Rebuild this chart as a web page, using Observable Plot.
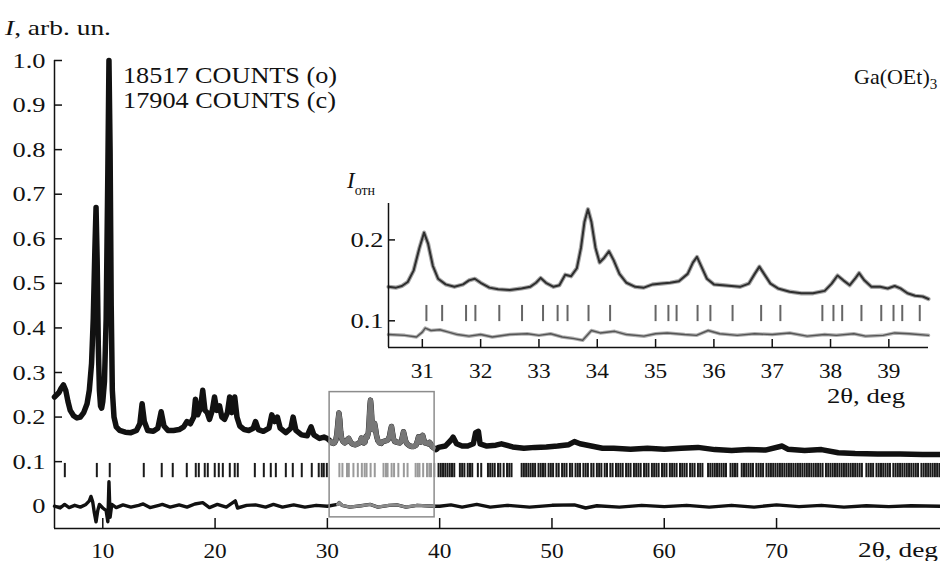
<!DOCTYPE html>
<html>
<head>
<meta charset="utf-8">
<script src="https://cdn.jsdelivr.net/npm/d3@7"></script>
<script src="https://cdn.jsdelivr.net/npm/@observablehq/plot@0.6"></script>
<style>
  body { margin: 0; background: #fff; }
  #wrap { position: relative; width: 940px; height: 561px; overflow: hidden; }
  #wrap > svg, #wrap > div { position: absolute; }
</style>
</head>
<body>
<div id="wrap"></div>
<script>
// ---------- main pattern: observed profile (2θ, I) ----------
const lowTheta = [5.7,5.9,6.1,6.3,6.5,6.7,6.9,7.1,7.4,7.7,8.0,8.3,8.6,8.8,9.0,9.15,9.3,9.4,9.5,9.6,9.7,9.8,9.9,10.0,10.15,10.3,10.45,10.55,10.65,10.75,10.85,11.0,11.2,11.5,12.0,12.5,13.0,13.3,13.5,13.7,14.0,14.5,14.9,15.2,15.45,15.8,16.3,16.8,17.2,17.5,17.8,18.1,18.25,18.45,18.7,18.9,19.1,19.3,19.5,19.75,19.95,20.15,20.4,20.6,20.85,21.1,21.3,21.5,21.75,21.95,22.2,22.6,23.0,23.4,23.6,23.85,24.3,24.8,25.05,25.3,25.55,25.8,26.3,26.75,26.95,27.2,27.7,28.2,28.55,28.8,29.3,29.7,30.0,30.3];
const lowI     = [0.245,0.25,0.255,0.265,0.272,0.26,0.235,0.215,0.203,0.198,0.2,0.21,0.23,0.26,0.32,0.42,0.58,0.67,0.55,0.36,0.26,0.225,0.22,0.235,0.28,0.42,0.75,1.0,0.8,0.45,0.26,0.2,0.178,0.17,0.166,0.165,0.17,0.185,0.23,0.19,0.17,0.168,0.175,0.212,0.18,0.17,0.17,0.172,0.178,0.19,0.185,0.2,0.24,0.205,0.22,0.26,0.215,0.21,0.195,0.215,0.245,0.215,0.225,0.2,0.195,0.21,0.245,0.21,0.245,0.2,0.18,0.172,0.17,0.175,0.19,0.172,0.168,0.175,0.205,0.19,0.2,0.175,0.165,0.175,0.2,0.17,0.16,0.158,0.178,0.16,0.152,0.155,0.152,0.145];

// zoomed region (inset), also used for the boxed part of the main pattern
const insetTheta = [30.42,30.55,30.65,30.75,30.85,30.95,31.03,31.1,31.18,31.27,31.4,31.55,31.7,31.8,31.9,32.0,32.15,32.3,32.5,32.7,32.85,32.95,33.03,33.12,33.25,33.35,33.45,33.55,33.65,33.72,33.78,33.84,33.9,33.97,34.04,34.12,34.2,34.28,34.38,34.5,34.65,34.8,34.95,35.1,35.25,35.4,35.55,35.64,35.71,35.78,35.88,36.0,36.15,36.3,36.45,36.6,36.7,36.78,36.86,36.97,37.1,37.3,37.5,37.7,37.9,38.02,38.12,38.22,38.33,38.42,38.49,38.58,38.7,38.85,38.98,39.1,39.2,39.32,39.45,39.58,39.68];
const insetI     = [0.142,0.141,0.143,0.148,0.162,0.19,0.209,0.195,0.168,0.152,0.145,0.142,0.145,0.15,0.152,0.147,0.141,0.139,0.138,0.14,0.142,0.147,0.153,0.147,0.142,0.144,0.157,0.155,0.165,0.19,0.222,0.238,0.222,0.19,0.172,0.178,0.186,0.175,0.158,0.147,0.142,0.141,0.145,0.146,0.147,0.149,0.158,0.172,0.179,0.168,0.152,0.145,0.144,0.143,0.142,0.146,0.158,0.167,0.158,0.146,0.14,0.136,0.134,0.134,0.137,0.146,0.156,0.15,0.144,0.152,0.159,0.15,0.142,0.142,0.14,0.143,0.14,0.134,0.131,0.13,0.127];

const highTheta = [39.9,40.5,41.0,41.2,41.5,42.0,42.5,43.0,43.2,43.45,43.6,44.2,45.0,45.5,46.5,47.5,48.5,49.5,50.5,51.5,52.0,52.5,53.5,54.5,55.5,57.0,58.5,60.0,61.5,63.0,64.5,66.0,67.5,69.0,70.5,71.0,72.5,74.0,75.5,77.0,79.0,81.0,83.0,84.6];
const highI     = [0.132,0.135,0.148,0.155,0.14,0.135,0.135,0.14,0.165,0.168,0.14,0.135,0.137,0.14,0.133,0.13,0.132,0.133,0.135,0.138,0.145,0.14,0.135,0.13,0.13,0.128,0.13,0.128,0.13,0.132,0.127,0.125,0.127,0.126,0.135,0.128,0.125,0.127,0.12,0.118,0.117,0.117,0.116,0.116];

// ---------- difference curves ----------
const diffTheta = [5.7,6.2,6.6,7.0,7.5,8.0,8.5,8.8,8.95,9.1,9.25,9.4,9.55,9.7,10.0,10.3,10.45,10.55,10.65,10.8,11.2,11.8,12.5,13.2,13.6,14.2,15.0,15.3,16.0,16.8,17.5,18.2,18.9,19.5,20.2,21.0,21.8,22.0,22.8,23.6,24.5,25.2,26.0,27.0,28.0,29.0,30.0,30.9,31.05,31.3,32.0,33.0,33.8,34.5,35.5,36.2,37.0,38.0,39.5,40.0,41.0,42.0,43.3,44.5,46.0,48.0,50.0,52.0,53.0,54.0,56.0,58.0,60.0,62.0,64.0,66.0,68.0,70.0,72.0,74.0,76.0,78.0,80.0,82.0,84.6];
const diffI     = [0.0,-0.004,0.004,-0.003,0.002,-0.002,0.004,0.012,0.022,0.01,-0.015,-0.035,-0.01,0.004,-0.004,-0.01,-0.035,0.055,-0.025,0.004,-0.003,0.003,-0.002,0.002,0.005,-0.003,0.002,0.004,-0.002,0.003,-0.002,0.005,0.008,-0.003,0.004,-0.002,0.012,-0.004,0.002,0.003,-0.002,0.004,-0.002,0.003,-0.002,0.002,0.0,0.004,0.008,0.002,-0.002,0.001,0.004,-0.002,0.002,0.003,-0.002,0.002,0.0,0.0,0.003,-0.002,0.004,-0.002,0.002,-0.002,0.002,0.003,-0.004,0.001,-0.002,0.002,-0.001,0.002,-0.002,0.002,-0.002,0.003,-0.001,0.002,-0.002,0.001,-0.001,0.001,0.0];

const insetDiffTheta = [30.42,30.7,30.9,31.0,31.05,31.15,31.3,31.45,31.6,31.8,32.0,32.2,32.5,32.8,33.0,33.2,33.4,33.6,33.75,33.9,34.05,34.3,34.5,34.8,35.0,35.2,35.5,35.7,35.9,36.1,36.4,36.7,37.0,37.3,37.6,37.9,38.1,38.4,38.6,38.9,39.1,39.35,39.68];
const insetDiffI     = [0.083,0.082,0.08,0.086,0.091,0.088,0.089,0.086,0.083,0.081,0.083,0.08,0.083,0.084,0.082,0.084,0.08,0.078,0.076,0.088,0.085,0.087,0.083,0.081,0.084,0.085,0.083,0.082,0.088,0.084,0.082,0.084,0.083,0.085,0.081,0.083,0.082,0.084,0.081,0.082,0.085,0.084,0.082];

// ---------- Bragg reflection positions ----------
const braggLow = [6.62,9.47,10.62,13.65,15.25,16.23,17.48,18.28,18.55,19.08,19.35,19.97,20.33,20.69,21.31,21.75,22.02,23.54,24.34,24.96,25.41,26.30,26.92,27.72,28.61,29.23,29.50,29.68,29.95];
const braggInset = [31.07,31.34,31.75,31.91,32.32,32.71,33.07,33.32,33.49,33.85,34.22,35.0,35.22,35.36,35.72,35.94,36.32,36.81,37.14,37.86,38.05,38.20,38.53,38.87,39.08,39.23,39.53];
const braggHigh = [39.9,40.1,40.3,40.5,40.7,40.9,41.1,41.3,41.8,42.0,42.2,42.5,42.7,42.9,43.4,43.7,44.3,44.5,44.7,44.9,45.2,45.4,45.7,46.0,46.2,46.4,47.3,47.5,47.7,47.9,48.1,48.3,48.5,48.8,49.0,49.2,49.4,49.7,49.9,50.1,50.4,50.6,50.9,51.1,51.3,51.6,51.8,52.1,52.3,52.5,52.8,53.0,53.2,53.5,53.7,54.0,54.2,54.4,54.7,54.9,55.2,55.4,55.7,55.9,56.1,56.3,56.6,56.8,57.0,57.3,57.5,57.7,57.9,58.2,58.4,58.6,58.9,59.1,59.3,59.5,59.8,60.0,60.2,60.5,60.7,60.9,61.1,61.4,61.6,61.8,62.0,62.3,62.5,62.7,63.0,63.2,63.4,63.9,64.1,64.3,64.5,64.7,64.9,65.1,65.3,65.5,65.9,66.1,66.3,66.5,66.9,67.1,67.3,67.5,67.7,67.9,68.2,68.4,68.6,68.8,69.1,69.3,69.5,69.7,69.9,70.1,70.3,70.5,70.7,70.9,71.1,71.3,71.5,71.7,71.9,72.1,72.3,72.5,72.7,72.9,73.1,73.3,73.5,73.7,73.9,74.1,74.4,74.6,74.8,75.0,75.2,75.4,75.6,75.8,76.0,76.2,76.4,76.6,76.8,77.0,77.2,77.4,77.6,78.0,78.2,78.4,78.6,78.9,79.1,79.3,79.5,79.7,79.9,80.1,80.4,80.6,80.8,81.0,81.2,81.4,81.6,81.8,82.0,82.2,82.4,82.6,82.9,83.1,83.3,83.5,83.7,83.9,84.1,84.3,84.5];

// rows where Bragg markers sit
const braggRowMain = [0.064, 0.096];
const braggRowInset = [0.099, 0.119];

// zoom box on main pattern
const boxTheta = [30.2, 39.55];
const boxI = [-0.025, 0.256];

// axes
const xDomain = [5.7, 84.6];
const yDomain = [-0.05, 1.0];
const xTicks = [10, 20, 30, 40, 50, 60, 70];
const yTicks = [0, 0.1, 0.2, 0.3, 0.4, 0.5, 0.6, 0.7, 0.8, 0.9, 1.0];
const insetXDomain = [30.42, 39.68];
const insetYDomain = [0.067, 0.245];
const insetXTicks = [31, 32, 33, 34, 35, 36, 37, 38, 39];
const insetYTicks = [0.1, 0.2];

// ---------- build tables ----------
const pts = (T, I) => T.map((t, k) => ({t, i: I[k]}));
const obsMain = [...pts(lowTheta, lowI), ...pts(insetTheta, insetI), ...pts(highTheta, highI)];
const inBox = d => d.t >= boxTheta[0] && d.t <= boxTheta[1];
const diffMain = pts(diffTheta, diffI);
const obsInset = pts(insetTheta, insetI);
const diffInset = pts(insetDiffTheta, insetDiffI);
const braggMainAll = [...braggLow, ...braggInset, ...braggHigh];

const FONT = "'Liberation Serif', 'Times New Roman', serif";
const INK = "#111";

const main = Plot.plot({
  width: 940, height: 561,
  marginLeft: 54, marginRight: 0, marginTop: 60, marginBottom: 33,
  x: {domain: xDomain, label: null},
  y: {domain: yDomain, label: null},
  style: {fontFamily: FONT, fontSize: "22px", color: INK, background: "transparent", overflow: "visible"},
  marks: [
    Plot.ruleX(braggMainAll, {x: d => d, y1: braggRowMain[0], y2: braggRowMain[1],
      stroke: d => (d >= boxTheta[0] && d <= boxTheta[1]) ? "#9a9a9a" : "#1a1a1a", strokeWidth: 2}),
    Plot.line(diffMain, {x: "t", y: "i", stroke: INK, strokeWidth: 3.4, strokeLinejoin: "round"}),
    Plot.line(diffMain.filter(inBox), {x: "t", y: "i", stroke: "#8a8a8a", strokeWidth: 3, strokeLinejoin: "round"}),
    Plot.line(obsMain, {x: "t", y: "i", stroke: INK, strokeWidth: 5.5, strokeLinejoin: "round"}),
    Plot.line(obsMain.filter(inBox), {x: "t", y: "i", stroke: "#777", strokeWidth: 5, strokeLinejoin: "round"}),
    Plot.rect([0], {x1: () => boxTheta[0], x2: () => boxTheta[1], y1: () => boxI[0], y2: () => boxI[1],
      fill: "none", stroke: "#8c8c8c", strokeWidth: 1.5}),
    Plot.ruleX([xDomain[0]], {stroke: INK, strokeWidth: 1.5}),
    Plot.ruleY([yDomain[0]], {stroke: INK, strokeWidth: 1.5}),
    Plot.axisX({ticks: xTicks, tickSize: -10, tickFormat: () => "", strokeWidth: 1.5, label: null}),
    Plot.axisX({ticks: xTicks, tickSize: 0, tickPadding: 14, tickFormat: d => String(d), label: null}),
    Plot.axisY({ticks: yTicks, tickSize: -8, tickFormat: () => "", strokeWidth: 1.5, label: null}),
    Plot.axisY({ticks: yTicks, tickSize: 0, tickPadding: 9, tickFormat: d => d === 0 ? "0" : d.toFixed(1), label: null})
  ]
});
main.style.left = "0px"; main.style.top = "0px";

const inset = Plot.plot({
  width: 600, height: 200,
  marginLeft: 48, marginRight: 12, marginTop: 13, marginBottom: 43,
  x: {domain: insetXDomain, label: null},
  y: {domain: insetYDomain, label: null},
  style: {fontFamily: FONT, fontSize: "22px", color: INK, background: "transparent", overflow: "visible"},
  marks: [
    Plot.ruleX(braggInset, {x: d => d, y1: braggRowInset[0], y2: braggRowInset[1], stroke: "#666", strokeWidth: 2}),
    Plot.line(diffInset, {x: "t", y: "i", stroke: "#b0b0b0", strokeWidth: 3.5, strokeLinejoin: "round"}),
    Plot.line(diffInset, {x: "t", y: "i", stroke: "#555", strokeWidth: 1.4, strokeLinejoin: "round"}),
    Plot.line(obsInset, {x: "t", y: "i", stroke: "#a8a8a8", strokeWidth: 4.2, strokeLinejoin: "round"}),
    Plot.line(obsInset, {x: "t", y: "i", stroke: "#2e2e2e", strokeWidth: 2, strokeLinejoin: "round"}),
    Plot.ruleX([insetXDomain[0]], {stroke: INK, strokeWidth: 1.5}),
    Plot.ruleY([insetYDomain[0]], {stroke: INK, strokeWidth: 1.5}),
    Plot.axisX({ticks: insetXTicks, tickSize: -8, tickFormat: () => "", strokeWidth: 1.5, label: null}),
    Plot.axisX({ticks: insetXTicks, tickSize: 0, tickPadding: 15, tickFormat: d => String(d), label: null}),
    Plot.axisY({ticks: insetYTicks, tickSize: -7, tickFormat: () => "", strokeWidth: 1.5, label: null}),
    Plot.axisY({ticks: insetYTicks, tickSize: 0, tickPadding: 5, tickFormat: d => d.toFixed(1), label: null})
  ]
});
inset.style.left = "340px"; inset.style.top = "190px";

// tidy tick labels: drop empty ones, serif face, widen like the reference typeface
function tidy(svg) {
  svg.querySelectorAll("text").forEach(el => {
    if (el.textContent.trim() === "") { el.remove(); return; }
    const g = el.closest("g[aria-label]");
    const lab = g ? g.getAttribute("aria-label") : "";
    const s = lab.startsWith("y-axis") ? 1.2 : 1.06;
    const tr = el.getAttribute("transform") || "";
    el.setAttribute("transform", `${tr} scale(${s},1)`);
    el.style.fontFamily = FONT;
    el.style.fontVariant = "normal";
    el.setAttribute("fill", INK);
  });
}
tidy(main); tidy(inset);

const wrap = document.getElementById("wrap");
wrap.appendChild(main);
wrap.appendChild(inset);

// ---------- text labels overlay ----------
const ov = d3.create("svg").attr("width", 940).attr("height", 561)
  .style("left", "0px").style("top", "0px")
  .style("font-family", FONT).attr("fill", INK);

function label(x, y, size, parts, len) {
  const t = ov.append("text").attr("x", x).attr("y", y).attr("font-size", size);
  for (const p of parts) {
    const s = t.append("tspan").text(p.s);
    if (p.it) s.attr("font-style", "italic");
    if (p.size) s.attr("font-size", p.size);
    if (p.dy) s.attr("dy", p.dy);
  }
  if (len) t.attr("textLength", len).attr("lengthAdjust", "spacingAndGlyphs");
  return t;
}
label(5, 35, 22, [{s: "I", it: true}, {s: ", arb. un."}], 106);
label(123, 83, 24, [{s: "18517 COUNTS (o)"}], 214);
label(123, 108, 24, [{s: "17904 COUNTS (c)"}], 213);
label(854, 84, 22, [{s: "Ga(OEt)"}, {s: "3", size: 15, dy: 5}]);
label(347, 188, 23, [{s: "I", it: true}, {s: "отн", size: 14, dy: 7}]);
label(827, 403, 22, [{s: "2θ, deg"}], 78);
label(858, 557, 22, [{s: "2θ, deg"}], 80);

wrap.appendChild(ov.node());
</script>
</body>
</html>
